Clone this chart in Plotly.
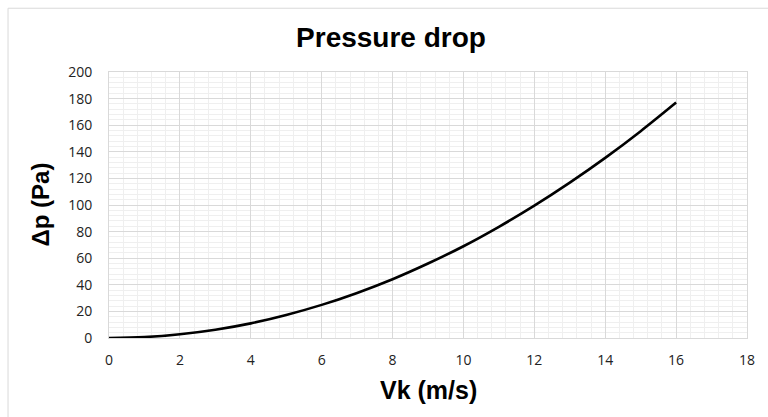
import plotly.graph_objects as go

# Data
velocity = [0, 1, 2, 3, 4, 5, 6, 7, 8, 9, 10, 11, 12, 13, 14, 15, 16]
pressure_drop = [0, 0.7, 2.8, 6.2, 11.0, 17.3, 24.9, 33.9, 44.2, 56.0, 69.0, 83.6, 99.5, 116.8, 135.4, 155.5, 177.0]

x_ticks = [0, 2, 4, 6, 8, 10, 12, 14, 16, 18]
y_ticks = [0, 20, 40, 60, 80, 100, 120, 140, 160, 180, 200]

title_text = "Pressure drop"
x_title = "Vk (m/s)"
y_title = "Δp (Pa)"

W, H = 768, 417
L, R, T, B = 108.5, 21.3, 71.5, 78.5

fig = go.Figure()
fig.add_trace(go.Scatter(
    x=velocity, y=pressure_drop, mode="lines",
    line=dict(color="black", width=2.6, shape="spline"),
    showlegend=False, hoverinfo="skip",
))

tick_font = dict(family="Open Sans, Lato, sans-serif", size=14, color="#222")
grid_major = "#d9d9d9"
grid_minor = "#efefef"

fig.update_xaxes(
    range=[0, 18], tickvals=x_ticks, ticktext=[str(v) for v in x_ticks],
    showgrid=True, gridcolor=grid_major, gridwidth=1,
    minor=dict(dtick=0.4, showgrid=True, gridcolor=grid_minor, gridwidth=1),
    showline=True, linecolor=grid_major, linewidth=1, mirror=True,
    zeroline=False, ticks="", tickfont=tick_font, ticklabelstandoff=9,
)
fig.update_yaxes(
    range=[0, 200], tickvals=y_ticks, ticktext=[str(v) for v in y_ticks],
    showgrid=True, gridcolor=grid_major, gridwidth=1,
    minor=dict(dtick=4, showgrid=True, gridcolor=grid_minor, gridwidth=1),
    showline=True, linecolor=grid_major, linewidth=1, mirror=True,
    zeroline=False, ticks="", tickfont=tick_font, ticklabelstandoff=13,
)

fig.update_layout(
    width=W, height=H,
    margin=dict(l=L, r=R, t=T, b=B, pad=0),
    paper_bgcolor="white", plot_bgcolor="white",
    title=dict(text=f"<b>{title_text}</b>", x=391 / W, xanchor="center",
               y=1 - 37 / H, yanchor="middle",
               font=dict(family="Liberation Sans, Arial, sans-serif", size=28, color="black")),
    annotations=[
        dict(text=f"<b>{x_title}</b>", xref="paper", yref="paper",
             x=0.5, y=-(391 - (H - B)) / (H - T - B), xanchor="center", yanchor="middle",
             showarrow=False,
             font=dict(family="Liberation Sans, Arial, sans-serif", size=25, color="black")),
        dict(text=f"<b>{y_title}</b>", xref="paper", yref="paper",
             x=-(L - 39) / (W - L - R), y=(H - B - 205) / (H - T - B),
             xanchor="center", yanchor="middle", textangle=-90, showarrow=False,
             font=dict(family="Liberation Sans, Arial, sans-serif", size=24, color="black")),
    ],
    shapes=[
        dict(type="rect", xref="paper", yref="paper",
             x0=-(L - 7.5) / (W - L - R), x1=1.2,
             y0=-0.5, y1=1 + (T - 7.5) / (H - T - B),
             line=dict(color="#d9d9d9", width=1), layer="below"),
    ],
)

fig.write_html("out.html",
               config={"displayModeBar": False},
               post_script="document.body.style.margin='0';document.body.style.padding='0';")
